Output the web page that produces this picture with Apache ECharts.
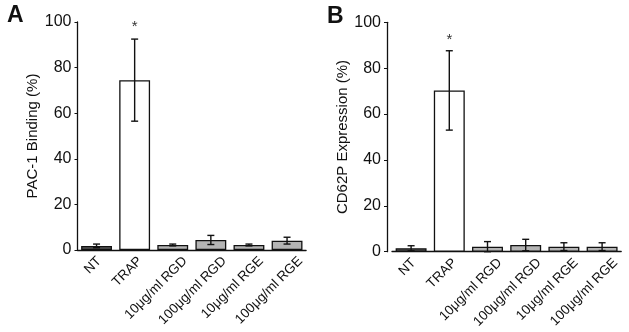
<!DOCTYPE html>
<html>
<head>
<meta charset="utf-8">
<script src="https://cdn.jsdelivr.net/npm/echarts@6/dist/echarts.min.js"></script>
<style>
  html, body { margin: 0; padding: 0; background: #fff; }
  #chart { width: 629px; height: 332px; }
</style>
</head>
<body>
<div id="chart"></div>
<script>
// categories and values
const categories = ['NT', 'TRAP', '10μg/ml RGD', '100μg/ml RGD', '10μg/ml RGE', '100μg/ml RGE']
const pacMean = [1.8, 74.5, 2.2, 4.4, 2.2, 4.1]
const pacErr = [0.8, 18, 0.4, 2.0, 0.4, 1.5]
const cdMean = [1.5, 70.3, 2.2, 2.9, 2.2, 2.2]
const cdErr = [1.1, 17.3, 2.2, 2.5, 1.7, 1.7]
const stars = ['', '*', '', '', '', '']
const yTicks = [0, 20, 40, 60, 80, 100]
const barColors = ['#575757', '#ffffff', '#b4b4b4', '#b4b4b4', '#b4b4b4', '#b4b4b4']

const font = 'Liberation Sans, Arial, sans-serif'
const xLabelSize = 13.5

// the original slides longer rotated labels a little to the right
const ctx = document.createElement('canvas').getContext('2d')
ctx.font = xLabelSize + 'px ' + font
const labelRich = {}
categories.forEach((c, i) => {
  const w = ctx.measureText(c).width
  const s = 0.15 * w // horizontal shift in px
  const k = s / Math.SQRT2
  labelRich['l' + i] = { fontSize: xLabelSize, fontFamily: font, color: '#111', padding: [2 * k, -k, 0, 0] }
})

function barSeries(idx, mean) {
  return {
    type: 'bar',
    xAxisIndex: idx,
    yAxisIndex: idx,
    barCategoryGap: '19%',
    data: mean.map((v, i) => ({
      value: v,
      itemStyle: { color: barColors[i], borderColor: '#111', borderWidth: 1.3 }
    })),
    silent: true
  }
}

function errSeries(idx, mean, err, starGap) {
  return {
    type: 'custom',
    xAxisIndex: idx,
    yAxisIndex: idx,
    data: mean.map((v, i) => [i, v - err[i], v + err[i], stars[i]]),
    renderItem: (params, api) => {
      const lo = api.coord([api.value(0), api.value(1)])
      const hi = api.coord([api.value(0), api.value(2)])
      const x = lo[0]
      const cap = 3.5
      const style = { stroke: '#111', lineWidth: 1.4 }
      const children = [
        { type: 'line', shape: { x1: x, y1: lo[1], x2: x, y2: hi[1] }, style },
        { type: 'line', shape: { x1: x - cap, y1: lo[1], x2: x + cap, y2: lo[1] }, style },
        { type: 'line', shape: { x1: x - cap, y1: hi[1], x2: x + cap, y2: hi[1] }, style }
      ]
      const s = api.value(3)
      if (s) {
        children.push({
          type: 'text',
          style: { text: s, x: x, y: hi[1] - starGap, align: 'center', verticalAlign: 'middle', font: '15px ' + font, fill: '#333' }
        })
      }
      return { type: 'group', children }
    },
    z: 5,
    silent: true
  }
}

function xAxis(idx) {
  return {
    type: 'category',
    gridIndex: idx,
    data: categories,
    boundaryGap: true,
    axisTick: { show: false },
    axisLine: { lineStyle: { color: '#111', width: 1.3 } },
    axisLabel: {
      rotate: 45, interval: 0, margin: 9, color: '#111', fontSize: xLabelSize, fontFamily: font,
      formatter: (v, i) => '{l' + i + '|' + v + '}',
      rich: labelRich
    }
  }
}

function yAxis(idx, name, gap, offset) {
  return {
    type: 'value',
    gridIndex: idx,
    min: 0,
    max: 100,
    interval: 20,
    offset: offset,
    name: name,
    nameLocation: 'middle',
    nameGap: gap,
    nameTextStyle: { color: '#111', fontSize: 15, fontFamily: font },
    splitLine: { show: false },
    axisLine: { show: true, lineStyle: { color: '#111', width: 1.3 } },
    axisTick: { show: true, length: 3, lineStyle: { color: '#111' } },
    axisLabel: {
      color: '#111', fontSize: 16, fontFamily: font, margin: 6,
      formatter: v => yTicks.includes(v) ? String(v) : ''
    }
  }
}

const option = {
  animation: false,
  backgroundColor: '#fff',
  title: [
    { text: 'A', left: 7, top: 4, padding: 0, textStyle: { fontSize: 23, fontWeight: 'bold', color: '#111', fontFamily: font } },
    { text: 'B', left: 327, top: 5, padding: 0, textStyle: { fontSize: 23, fontWeight: 'bold', color: '#111', fontFamily: font } }
  ],
  grid: [
    { left: 77.5, top: 22, width: 228.6, height: 228, outerBoundsMode: 'none' },
    { left: 392, top: 22.3, width: 229.2, height: 229.4, outerBoundsMode: 'none' }
  ],
  xAxis: [xAxis(0), xAxis(1)],
  yAxis: [yAxis(0, 'PAC-1 Binding (%)', 37, 0), yAxis(1, 'CD62P Expression (%)', 29, 5)],
  series: [
    barSeries(0, pacMean),
    errSeries(0, pacMean, pacErr, 12),
    barSeries(1, cdMean),
    errSeries(1, cdMean, cdErr, 11)
  ]
}

const myChart = echarts.init(document.getElementById('chart'))
myChart.setOption(option)
</script>
</body>
</html>
